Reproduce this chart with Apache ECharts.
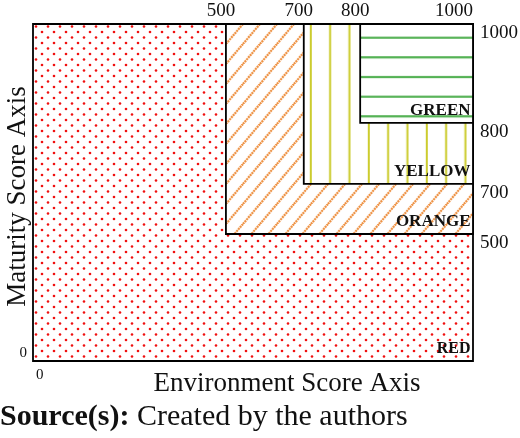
<!DOCTYPE html>
<html>
<head>
<meta charset="utf-8">
<script src="https://cdn.jsdelivr.net/npm/echarts@6.0.0/dist/echarts.min.js"></script>
<style>
  html, body { margin: 0; padding: 0; background: #fff; }
  #zones { width: 520px; height: 438px; }
</style>
</head>
<body>
<div id="zones"></div>
<script>
// zone data: each zone runs from its lower bound up to scoreMax on both axes
var zoneNames = ['RED', 'ORANGE', 'YELLOW', 'GREEN'];
var envFrom = [0, 500, 700, 800];   // Environment score lower bound
var matFrom = [0, 500, 700, 800];   // Maturity score lower bound
var scoreMax = 1000;
var envTicks = [500, 700, 800, 1000];
var matTicks = [500, 700, 800, 1000];

var FONT = '"Liberation Serif", "Times New Roman", serif';

// small canvas tiles used as fill patterns
function makeTile(w, h, draw) {
  var c = document.createElement('canvas');
  c.width = w;
  c.height = h;
  var ctx = c.getContext('2d');
  ctx.fillStyle = '#fff';
  ctx.fillRect(0, 0, w, h);
  draw(ctx);
  return c;
}

var tiles = {
  RED: makeTile(12, 11, function (ctx) {
    ctx.fillStyle = '#f01010';
    [[3, 2.5], [9, 8]].forEach(function (p) {
      ctx.beginPath();
      ctx.arc(p[0], p[1], 1.3, 0, Math.PI * 2);
      ctx.fill();
    });
  }),
  ORANGE: makeTile(17, 20, function (ctx) {
    ctx.strokeStyle = '#ee9040';
    ctx.lineWidth = 2.2;
    ctx.setLineDash([2, 0.7]);
    [-17, 0, 17].forEach(function (o) {
      ctx.beginPath();
      ctx.moveTo(o, 20);
      ctx.lineTo(o + 17, 0);
      ctx.stroke();
    });
  }),
  YELLOW: makeTile(58, 4, function (ctx) {
    ctx.fillStyle = '#cccc2e';
    [7, 26.3, 45.6].forEach(function (x) { ctx.fillRect(x - 1, 0, 2, 4); });
  }),
  GREEN: makeTile(4, 59, function (ctx) {
    ctx.fillStyle = '#55b255';
    [13.7, 33.3, 53].forEach(function (y) { ctx.fillRect(0, y - 1.1, 4, 2.2); });
  })
};

var zoneData = zoneNames.map(function (n, i) {
  return [envFrom[i], matFrom[i], scoreMax, scoreMax];
});

function renderZone(params, api) {
  var name = zoneNames[params.dataIndex];
  var lo = api.coord([api.value(0), api.value(1)]);
  var hi = api.coord([api.value(2), api.value(3)]);
  var x = lo[0], y = hi[1];
  return {
    type: 'group',
    children: [
      {
        type: 'rect',
        shape: { x: x, y: y, width: hi[0] - lo[0], height: lo[1] - hi[1] },
        style: {
          fill: { image: tiles[name], repeat: 'repeat', x: x, y: y },
          stroke: '#000',
          lineWidth: 1.8
        }
      },
      {
        type: 'text',
        style: {
          text: name,
          x: hi[0] - 2.5,
          y: lo[1] - 4,
          align: 'right',
          verticalAlign: 'bottom',
          font: 'bold ' + (name === 'RED' ? 16 : 17) + 'px ' + FONT,
          fill: '#111'
        }
      }
    ]
  };
}

var myChart = echarts.init(document.getElementById('zones'));

var option = {
  animation: false,
  title: {
    text: '{b|Source(s):} Created by the authors',
    left: 0,
    top: 402,
    padding: 0,
    textStyle: {
      fontFamily: FONT, fontSize: 30, fontWeight: 'normal', color: '#111',
      rich: { b: { fontFamily: FONT, fontSize: 30, fontWeight: 'bold', color: '#111' } }
    }
  },
  grid: { left: 33, right: 47, top: 24, bottom: 77, outerBoundsMode: 'none' },
  xAxis: [
    {
      type: 'value',
      position: 'top',
      min: 0,
      max: scoreMax,
      breaks: [{ start: 50, end: 450, gap: 242 }, { start: 550, end: 650, gap: 38 }],
      breakArea: { show: false, expandOnClick: false },
      axisLine: { show: false },
      axisTick: { show: false },
      splitLine: { show: false },
      axisLabel: {
        customValues: envTicks,
        alignMaxLabel: 'right',
        margin: 3,
        fontFamily: FONT, fontSize: 19, color: '#111',
        formatter: function (v) { return v === scoreMax ? String(v) : '{l|' + v + '}'; },
        rich: { l: { fontFamily: FONT, fontSize: 19, color: '#111', padding: [0, 10, 0, 0] } }
      }
    },
    {
      type: 'value',
      position: 'bottom',
      min: 0,
      max: scoreMax,
      name: 'Environment Score Axis',
      nameLocation: 'middle',
      nameGap: 9,
      nameMoveOverlap: false,
      nameTextStyle: { fontFamily: FONT, fontSize: 27, color: '#111', padding: [0, 0, 0, 68] },
      axisLine: { show: false },
      axisTick: { show: false },
      splitLine: { show: false },
      axisLabel: {
        customValues: [0],
        alignMinLabel: 'left',
        margin: 7,
        padding: [0, 0, 0, 3],
        fontFamily: FONT, fontSize: 15, color: '#111'
      }
    }
  ],
  yAxis: [
    {
      type: 'value',
      position: 'right',
      min: 0,
      max: scoreMax,
      breaks: [
        { start: 20, end: 480, gap: 168 },
        { start: 520, end: 680, gap: 42 },
        { start: 850, end: 950, gap: 62 }
      ],
      breakArea: { show: false, expandOnClick: false },
      axisLine: { show: false },
      axisTick: { show: false },
      splitLine: { show: false },
      axisLabel: {
        customValues: matTicks,
        formatter: function (v) { return String(v); },
        verticalAlign: 'top',
        margin: 7,
        fontFamily: FONT, fontSize: 19, color: '#111'
      }
    },
    {
      type: 'value',
      position: 'left',
      min: 0,
      max: scoreMax,
      name: 'Maturity Score Axis',
      nameLocation: 'middle',
      nameGap: 2,
      nameMoveOverlap: false,
      nameTextStyle: { fontFamily: FONT, fontSize: 27, color: '#111', padding: [0, 8, 0, 0] },
      axisLine: { show: false },
      axisTick: { show: false },
      splitLine: { show: false },
      axisLabel: {
        customValues: [0],
        verticalAlignMinLabel: 'bottom',
        margin: 6,
        fontFamily: FONT, fontSize: 15, color: '#111'
      }
    }
  ],
  series: [
    {
      type: 'custom',
      xAxisIndex: 0,
      yAxisIndex: 0,
      clip: false,
      renderItem: renderZone,
      data: zoneData
    }
  ]
};

myChart.setOption(option);
</script>
</body>
</html>
